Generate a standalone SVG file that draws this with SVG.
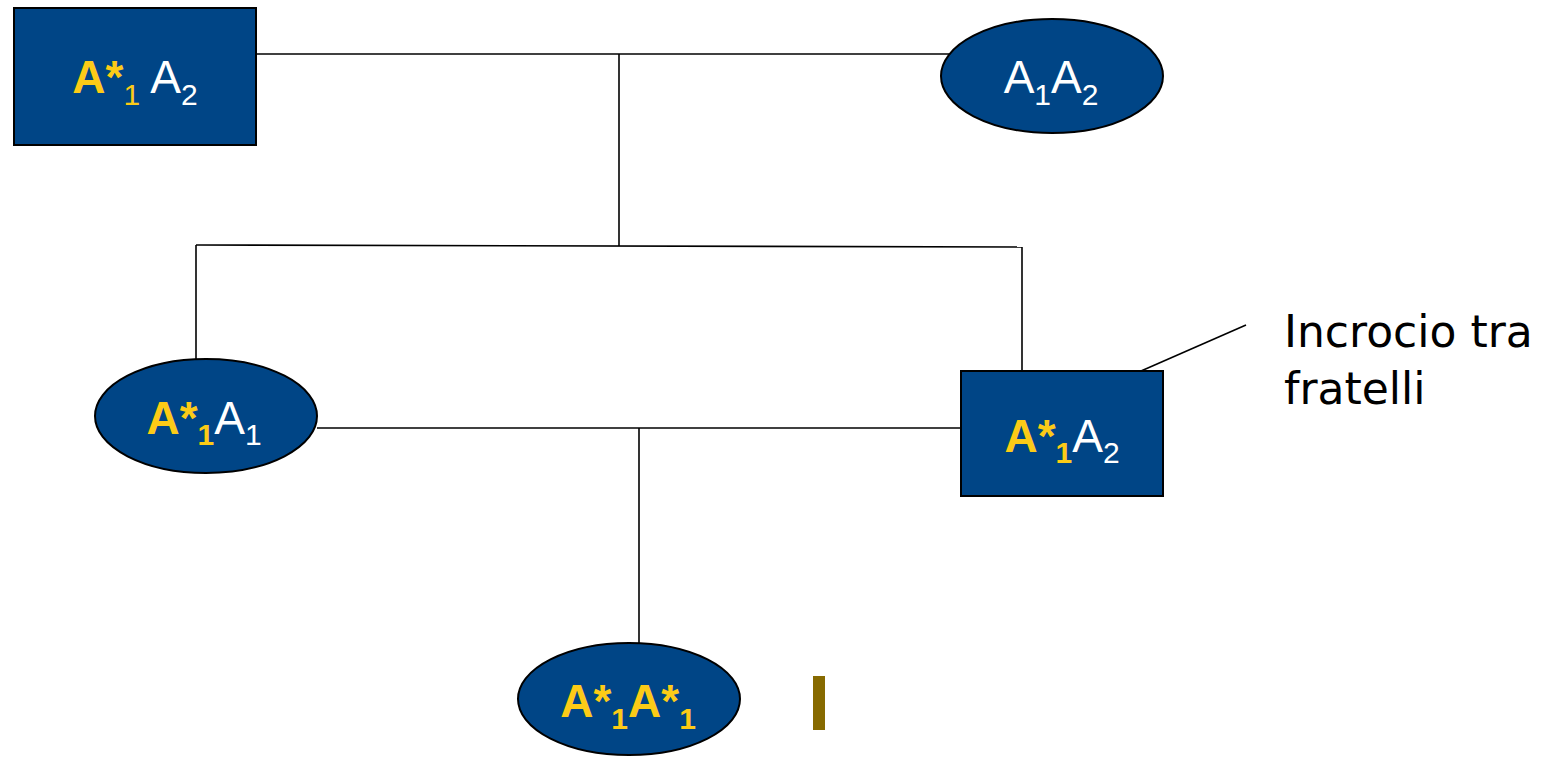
<svg xmlns="http://www.w3.org/2000/svg" width="1542" height="758" viewBox="0 0 1542 758">
<style>
.node{fill:#004586;stroke:#000;stroke-width:2}
.conn line{stroke:#000;stroke-width:1.6}
.lbl{font-family:"Liberation Sans",Arial,sans-serif;font-size:46px;text-anchor:middle}
.g{fill:#FCCB17}
.w{fill:#fff}
.b{font-weight:bold}
.s{font-size:30px}
.note{font-family:"DejaVu Sans",sans-serif;font-size:44px;fill:#000}
</style>
<rect width="1542" height="758" fill="#fff"/>
<g class="conn" id="connectors">
<line x1="256" y1="54" x2="950" y2="54"/>
<line x1="619" y1="54" x2="619" y2="246"/>
<line x1="196" y1="245" x2="1022" y2="247"/>
<line x1="196" y1="245" x2="196" y2="359"/>
<line x1="1022" y1="247" x2="1022" y2="371"/>
<line x1="317" y1="428" x2="961" y2="428"/>
<line x1="639" y1="428" x2="639" y2="643"/>
<line x1="1141" y1="371" x2="1246" y2="325"/>
</g>
<g id="n1">
<rect class="node" x="14" y="8" width="242" height="137"/>
<text class="lbl" x="135" y="93"><tspan class="g b">A*</tspan><tspan class="g s" dy="12">1</tspan><tspan class="w" dy="-12"> A</tspan><tspan class="w s" dy="12">2</tspan></text>
</g>
<g id="n2">
<ellipse class="node" cx="1052" cy="76" rx="111" ry="57"/>
<text class="lbl" x="1051" y="93"><tspan class="w">A</tspan><tspan class="w s" dy="12">1</tspan><tspan class="w" dy="-12">A</tspan><tspan class="w s" dy="12">2</tspan></text>
</g>
<g id="n3">
<ellipse class="node" cx="206" cy="416" rx="111" ry="57"/>
<text class="lbl" x="204" y="434"><tspan class="g b">A*</tspan><tspan class="g b s" dy="11">1</tspan><tspan class="w" dy="-11">A</tspan><tspan class="w s" dy="11">1</tspan></text>
</g>
<g id="n4">
<rect class="node" x="961" y="371" width="202" height="125"/>
<text class="lbl" x="1062" y="452"><tspan class="g b">A*</tspan><tspan class="g b s" dy="11">1</tspan><tspan class="w" dy="-11">A</tspan><tspan class="w s" dy="11">2</tspan></text>
</g>
<g id="n5">
<ellipse class="node" cx="629" cy="699" rx="111" ry="56"/>
<text class="lbl" x="628" y="717"><tspan class="g b">A*</tspan><tspan class="g b s" dy="12">1</tspan><tspan class="g b" dy="-12">A*</tspan><tspan class="g b s" dy="12">1</tspan></text>
</g>
<g id="bar">
<rect x="813" y="676" width="12" height="54" fill="#876A00"/>
</g>
<g id="note">
<text class="note" x="1284" y="347">Incrocio tra</text>
<text class="note" x="1284" y="404">fratelli</text>
</g>
</svg>
